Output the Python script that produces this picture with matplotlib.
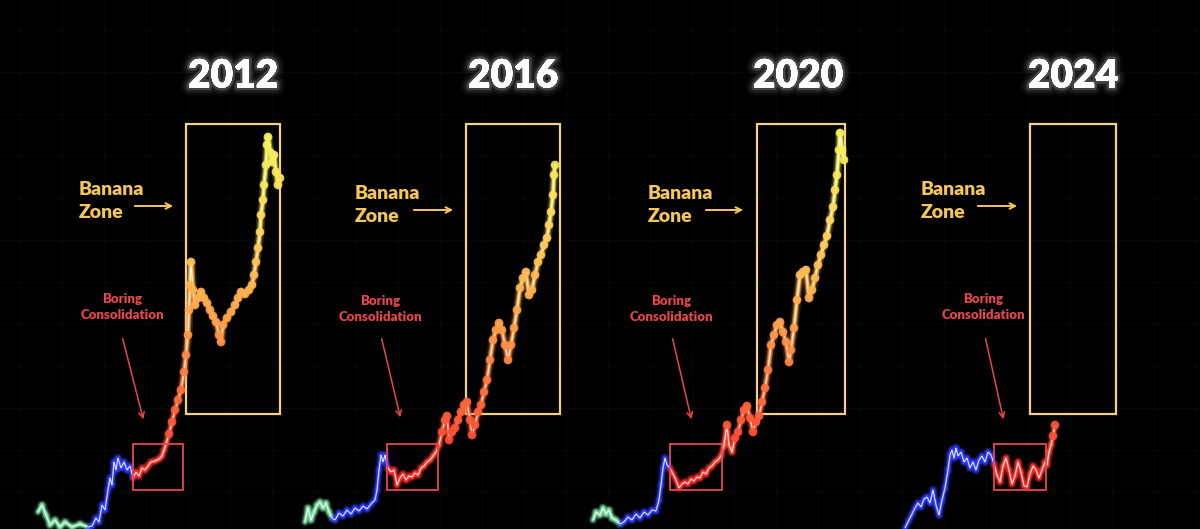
import numpy as np
import matplotlib as mpl
import matplotlib.pyplot as plt
import matplotlib.colors as mcolors
import matplotlib.patheffects as pe
from matplotlib.collections import LineCollection
from matplotlib.patches import Rectangle

# chart space: x = 0..1200, y = 0..529 measured from the top
cycle_labels = ["2012", "2016", "2020", "2024"]

cycle_2012 = [
    (38, 512), (42, 505), (46, 515), (50, 525), (55, 520), (60, 527), (65, 522), (72, 527), (80, 524), (88, 527),
    (92, 526), (96, 518), (99, 522), (102, 505), (105, 510), (108, 490), (110, 478), (112, 485), (114, 462),
    (116, 470), (118, 458), (121, 468), (124, 462), (127, 470), (130, 466), (133, 478), (136, 472), (139, 476),
    (142, 468), (145, 470), (148, 466), (151, 462), (155, 461), (159, 459), (162, 456), (164, 450), (166, 444),
    (169, 434), (172, 422), (175, 410), (178, 400), (181, 390), (184, 372), (186, 355), (188, 335), (189, 310),
    (190, 285), (191, 262), (193, 290), (195, 305), (198, 298), (201, 292), (204, 298), (207, 303), (210, 310),
    (213, 316), (216, 322), (219, 335), (221, 342), (223, 325), (227, 318), (231, 312), (235, 305), (238, 298),
    (241, 292), (245, 294), (249, 290), (252, 285), (254, 275), (256, 262), (258, 248), (260, 232), (261, 215),
    (263, 200), (264, 185), (266, 165), (267, 145), (268, 137), (270, 152), (272, 162), (274, 155), (276, 172),
    (278, 185), (280, 178),
]
cycle_2016 = [
    (305, 522), (308, 508), (311, 520), (314, 512), (317, 505), (320, 502), (323, 508), (326, 503), (329, 512),
    (332, 518), (335, 520), (339, 513), (343, 516), (347, 510), (351, 514), (355, 508), (359, 511), (363, 506),
    (367, 509), (371, 504), (375, 500), (377, 490), (379, 470), (381, 455), (383, 462), (385, 455), (388, 468),
    (391, 472), (394, 470), (397, 485), (400, 478), (403, 474), (406, 480), (409, 476), (412, 477), (415, 473),
    (418, 475), (421, 468), (424, 466), (427, 462), (430, 460), (433, 456), (436, 452), (439, 445), (442, 432),
    (445, 420), (447, 416), (449, 440), (452, 432), (455, 428), (458, 420), (461, 412), (464, 405), (467, 402),
    (470, 420), (472, 435), (475, 425), (478, 412), (481, 405), (484, 392), (487, 380), (490, 360), (493, 340),
    (496, 330), (499, 323), (502, 330), (505, 345), (508, 360), (511, 345), (514, 328), (517, 310), (520, 288),
    (523, 278), (526, 272), (529, 295), (532, 290), (535, 275), (538, 262), (541, 255), (544, 245), (547, 238),
    (549, 225), (551, 212), (553, 195), (554, 175), (555, 165),
]
cycle_2020 = [
    (593, 520), (596, 512), (600, 515), (603, 508), (606, 514), (609, 510), (612, 518), (616, 520), (620, 524),
    (624, 522), (628, 517), (632, 520), (636, 514), (640, 518), (644, 512), (648, 515), (652, 510), (656, 511),
    (659, 500), (661, 485), (663, 468), (665, 458), (667, 465), (670, 468), (673, 474), (676, 480), (679, 488),
    (682, 484), (685, 482), (688, 484), (691, 479), (694, 481), (697, 477), (700, 478), (703, 472), (706, 474),
    (709, 468), (712, 466), (715, 462), (718, 460), (721, 456), (724, 445), (727, 425), (729, 445), (732, 452),
    (735, 438), (738, 432), (741, 420), (744, 410), (747, 406), (750, 418), (753, 432), (756, 422), (759, 416),
    (762, 402), (765, 388), (768, 370), (771, 345), (774, 335), (777, 325), (780, 322), (783, 332), (786, 342),
    (789, 362), (791, 350), (794, 328), (797, 300), (800, 275), (803, 272), (806, 270), (809, 298), (812, 290),
    (815, 278), (818, 265), (821, 255), (824, 245), (827, 236), (830, 220), (833, 207), (835, 190), (837, 175),
    (839, 150), (840, 133), (842, 150), (844, 160),
]
cycle_2024 = [
    (905, 528), (909, 520), (912, 514), (915, 508), (918, 503), (921, 507), (924, 499), (927, 497), (930, 503),
    (933, 490), (936, 505), (939, 515), (942, 500), (945, 488), (948, 470), (950, 455), (952, 450), (954, 458),
    (956, 448), (958, 456), (961, 452), (964, 462), (967, 458), (970, 468), (973, 462), (976, 470), (979, 460),
    (982, 456), (985, 462), (988, 452), (991, 455), (994, 464), (997, 475), (1000, 482), (1003, 466), (1006, 458),
    (1009, 470), (1012, 484), (1015, 476), (1018, 462), (1021, 472), (1024, 486), (1027, 487), (1030, 474),
    (1033, 466), (1036, 470), (1039, 478), (1042, 470), (1045, 462), (1047, 465), (1049, 452), (1051, 445),
    (1053, 436), (1055, 425),
]
cycles = [cycle_2012, cycle_2016, cycle_2020, cycle_2024]

# early (green/teal) part ends at this x in each cycle
early_end = [90, 333, 622, 0]

title_pos = [(233, 76), (513, 76), (798, 76), (1073, 76)]
banana_box = [(186, 124, 280, 414), (466, 124, 560, 414), (757, 124, 845, 414), (1030, 124, 1116, 414)]
boring_box = [(133, 444, 183, 490), (387, 444, 438, 490), (670, 444, 722, 490), (994, 444, 1046, 490)]
banana_text = [(79, 201), (355, 205), (648, 205), (921, 201)]
banana_arrow = [(132, 176, 206), (411, 456, 210), (703, 746, 210), (975, 1020, 206)]
boring_text = [(122, 307), (380, 309), (671, 309), (983, 307)]
boring_arrow = [((122, 336), (144, 422)), ((381, 336), (401, 420)), ((672, 336), (692, 422)), ((985, 336), (1004, 422))]

BANANA = "#f5c65a"
BOX = "#f2d08e"
BORING = "#e5474b"

heat = mcolors.LinearSegmentedColormap.from_list(
    "heat", ["#ff2a2a", "#ff6a3a", "#ffa84a", "#ffd65a", "#f2f258"])


def point_colors(x, y, bx, ex):
    cols = []
    for xi, yi in zip(x, y):
        if xi < ex:
            cols.append(mcolors.to_rgba("#79dba0"))
        elif xi < bx:
            cols.append(mcolors.to_rgba("#2f3cff"))
        else:
            t = np.clip((482 - yi) / (482 - 135), 0, 1)
            cols.append(heat(t))
    return np.array(cols)


mpl.rcParams["font.family"] = ["Lato", "DejaVu Sans"]
fig = plt.figure(figsize=(12, 5.29), dpi=100, facecolor="black")
ax = fig.add_axes([0, 0, 1, 1])
ax.set_facecolor("black")
ax.set_xlim(0, 1200)
ax.set_ylim(529, 0)
ax.axis("off")

# very faint grid
for gx in np.arange(20, 1200, 42):
    ax.axvline(gx, color="#09090d", lw=0.6, zorder=0)
for gy in np.arange(30, 529, 42):
    ax.axhline(gy, color="#09090d", lw=0.6, zorder=0)

for i, data in enumerate(cycles):
    x = np.array([p[0] for p in data], float)
    y = np.array([p[1] for p in data], float)
    cols = point_colors(x, y, boring_box[i][0] + 2, early_end[i])
    segs = np.stack([np.column_stack([x[:-1], y[:-1]]), np.column_stack([x[1:], y[1:]])], axis=1)
    seg_cols = cols[1:]
    for lw, a in [(6.5, 0.18), (4, 0.5), (2.4, 0.95)]:
        c = seg_cols.copy()
        c[:, 3] = a
        ax.add_collection(LineCollection(segs, colors=c, linewidths=lw, capstyle="round", zorder=3))
    ax.add_collection(LineCollection(segs, colors=(1, 1, 1, 0.8), linewidths=0.9, zorder=4))
    t = (482 - y) / (482 - 135)
    m = (x >= boring_box[i][0]) & (t > 0.12)
    ax.scatter(x[m], y[m], s=38, c=cols[m], alpha=0.9, edgecolors="none", zorder=5)

    # title with soft glow
    tx, ty = title_pos[i]
    ax.text(tx, ty, cycle_labels[i], color="white", fontsize=28, fontweight="heavy",
            ha="center", va="center", zorder=6,
            path_effects=[pe.withStroke(linewidth=12, foreground=(1, 1, 1, 0.04)),
                          pe.withStroke(linewidth=8, foreground=(1, 1, 1, 0.07)),
                          pe.withStroke(linewidth=4, foreground=(1, 1, 1, 0.18)),
                          pe.Normal()])

    x0, y0, x1, y1 = banana_box[i]
    ax.add_patch(Rectangle((x0, y0), x1 - x0, y1 - y0, fill=False, ec=BOX, lw=1.6, zorder=2))
    x0, y0, x1, y1 = boring_box[i]
    ax.add_patch(Rectangle((x0, y0), x1 - x0, y1 - y0, fill=False, ec=BORING, lw=1.3, zorder=6))

    bx, by = banana_text[i]
    ax.text(bx, by, "Banana\nZone", color=BANANA, fontsize=14, fontweight="heavy",
            ha="left", va="center", linespacing=1.4, zorder=6)
    a0, a1, ay = banana_arrow[i]
    ax.annotate("", xy=(a1, ay), xytext=(a0, ay),
                arrowprops=dict(arrowstyle="->", color=BANANA, lw=1.4), zorder=6)

    cx, cy = boring_text[i]
    ax.text(cx, cy, "Boring\nConsolidation", color=BORING, fontsize=9.5, fontweight="heavy",
            ha="center", va="center", linespacing=1.45, zorder=6)
    (p0, p1) = boring_arrow[i]
    ax.annotate("", xy=p1, xytext=p0,
                arrowprops=dict(arrowstyle="->", color=BORING, lw=1.1), zorder=6)

fig.savefig("out.png", dpi=100, facecolor="black")
